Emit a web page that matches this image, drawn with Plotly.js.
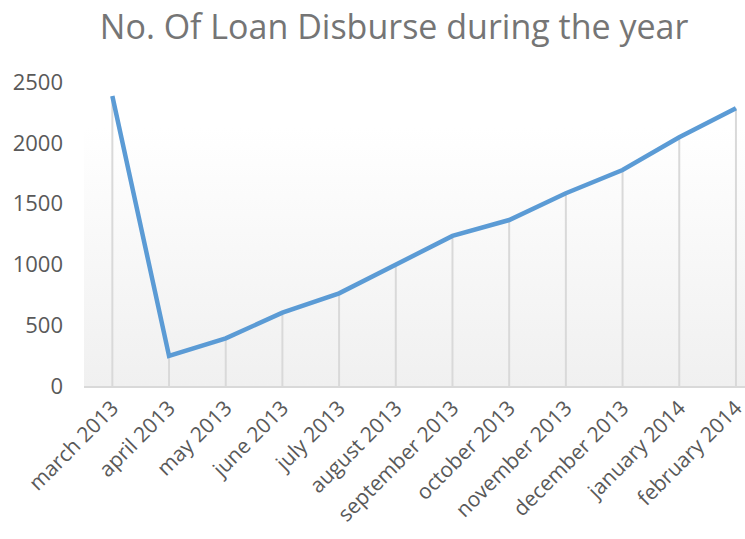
<!DOCTYPE html>
<html>
<head>
<meta charset="utf-8">
<script src="https://cdn.plot.ly/plotly-3.0.1.min.js"></script>
<style>html,body{margin:0;padding:0;overflow:hidden;background:#fff}</style>
</head>
<body>
<div id="chart" style="width:745px;height:539px"></div>
<script>
const months = ["march 2013","april 2013","may 2013","june 2013","july 2013","august 2013","september 2013","october 2013","november 2013","december 2013","january 2014","february 2014"];
const loans = [2385, 247, 392, 603, 762, 995, 1234, 1365, 1585, 1776, 2045, 2284];
const yTicks = [0, 500, 1000, 1500, 2000, 2500];

const dropX = [], dropY = [];
months.forEach((m, i) => { dropX.push(m, m, null); dropY.push(0, loans[i], null); });

const grad = 'data:image/svg+xml;utf8,' + encodeURIComponent(
  '<svg xmlns="http://www.w3.org/2000/svg" width="100" height="100" preserveAspectRatio="none">' +
  '<defs><linearGradient id="g" x1="0" y1="0" x2="0" y2="1">' +
  '<stop offset="0" stop-color="#ffffff"/><stop offset="0.15" stop-color="#ffffff"/><stop offset="1" stop-color="#f0f0f0"/>' +
  '</linearGradient></defs><rect width="100" height="100" fill="url(#g)"/></svg>');

const traces = [
  {x: dropX, y: dropY, type: 'scatter', mode: 'lines', line: {color: '#d9d9d9', width: 2}, hoverinfo: 'skip', showlegend: false},
  {x: months, y: loans, type: 'scatter', mode: 'lines', line: {color: '#5b9bd5', width: 4.5}, showlegend: false, cliponaxis: false}
];

const layout = {
  width: 745, height: 539,
  margin: {l: 84, r: 0, t: 82, b: 153},
  paper_bgcolor: '#ffffff',
  plot_bgcolor: 'rgba(0,0,0,0)',
  font: {family: 'Open Sans, sans-serif', color: '#595959'},
  title: {text: 'No. Of Loan Disburse during the year', x: 0.529, xanchor: 'center', y: 0.95, yanchor: 'middle',
          font: {family: 'Open Sans, sans-serif', size: 34, color: '#757575'}},
  xaxis: {type: 'category', range: [-0.5, 11.16], showgrid: false, zeroline: false,
          showline: true, linecolor: '#d9d9d9', linewidth: 1.5, ticks: '', tickangle: -45,
          tickfont: {size: 21, color: '#595959'}},
  yaxis: {range: [0, 2500], tickvals: yTicks, ticktext: yTicks.map(String), showgrid: false, zeroline: false,
          showline: false, ticks: '', ticklen: 0, ticklabelstandoff: 20, tickfont: {size: 22, color: '#595959'}},
  images: [{source: grad, xref: 'paper', yref: 'paper', x: 0, y: 1, sizex: 1, sizey: 1,
            xanchor: 'left', yanchor: 'top', sizing: 'stretch', layer: 'below'}]
};

Plotly.newPlot('chart', traces, layout, {displayModeBar: false, staticPlot: true});
</script>
</body>
</html>
